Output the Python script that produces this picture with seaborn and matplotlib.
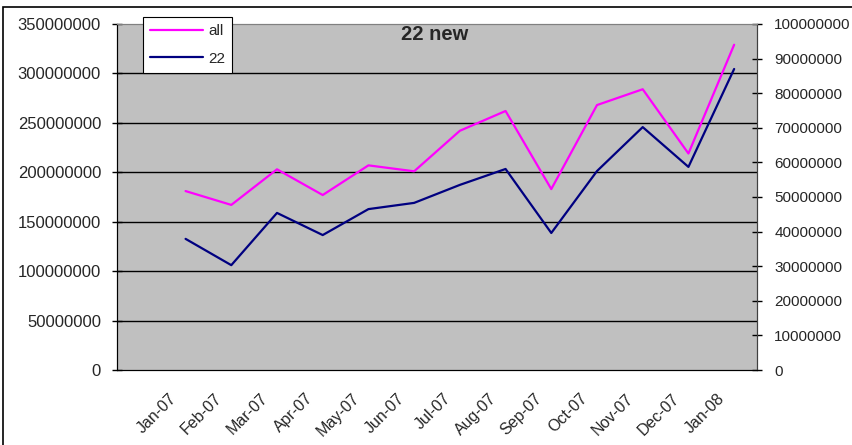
import matplotlib
matplotlib.use("Agg")
import matplotlib.pyplot as plt
import matplotlib.transforms as mtransforms
from matplotlib.patches import Rectangle
import numpy as np
import pandas as pd
import seaborn as sns

# data
months = ['Jan-07', 'Feb-07', 'Mar-07', 'Apr-07', 'May-07', 'Jun-07', 'Jul-07',
          'Aug-07', 'Sep-07', 'Oct-07', 'Nov-07', 'Dec-07', 'Jan-08']
all_vals = [181e6, 167e6, 203e6, 177e6, 207e6, 201e6, 242e6,
            262e6, 183e6, 268e6, 284e6, 219e6, 329e6]
new22_vals = [37.9e6, 30.3e6, 45.4e6, 39.0e6, 46.5e6, 48.3e6, 53.5e6,
              58.1e6, 39.6e6, 57.5e6, 70.2e6, 58.7e6, 87.0e6]
left_ticks = [0, 50e6, 100e6, 150e6, 200e6, 250e6, 300e6, 350e6]
right_ticks = [0, 10e6, 20e6, 30e6, 40e6, 50e6, 60e6, 70e6, 80e6, 90e6, 100e6]

# first category of the sheet is empty, months sit at positions 1..13
df = pd.DataFrame({'pos': np.arange(1, len(months) + 1), 'month': months,
                   'all': all_vals, '22': new22_vals})

sns.set_style("white")
plt.rcParams['font.family'] = ['Liberation Sans', 'DejaVu Sans']

fig = plt.figure(figsize=(8.53, 4.45), dpi=100)
ax = fig.add_axes([117/853, 1 - 370/445, 640/853, 346/445])
ax.set_facecolor('#C0C0C0')

sns.lineplot(data=df, x='pos', y='all', ax=ax, color='#FF00FF', linewidth=1.6, label='all', legend=False)
ax2 = ax.twinx()
sns.lineplot(data=df, x='pos', y='22', ax=ax2, color='#000080', linewidth=1.6, label='22', legend=False)

ax.set_xlim(-0.5, 13.5)
ax.set_ylim(0, 350e6)
ax2.set_ylim(0, 100e6)
ax.set_yticks(left_ticks)
ax.set_yticklabels([str(int(v)) for v in left_ticks])
ax2.set_yticks(right_ticks)
ax2.set_yticklabels([str(int(v)) for v in right_ticks])
for g in left_ticks[1:-1]:
    ax.axhline(g, color='black', linewidth=1, zorder=0.5)

# boundaries carry tick marks, centers carry labels
ax.set_xticks(np.arange(-0.5, 14, 1))
ax.set_xticklabels([])
ax.set_xticks(np.arange(1, 14), minor=True)
ax.set_xticklabels(months, minor=True, rotation=45, ha='right', rotation_mode='anchor', fontsize=11.5)
ax.tick_params(axis='x', which='major', direction='inout', length=7, width=1, color='black')
ax.tick_params(axis='x', which='minor', length=0, pad=15)
off = mtransforms.ScaledTranslation(-17/100, 0, fig.dpi_scale_trans)
for lab in ax.get_xticklabels(minor=True):
    lab.set_transform(lab.get_transform() + off)

ax.tick_params(axis='y', direction='inout', length=7, width=1, color='black', labelsize=12, pad=8, left=True)
ax2.tick_params(axis='y', direction='inout', length=7, width=1, color='black', labelsize=11, pad=9, right=True)
ax.set_xlabel('')
ax.set_ylabel('')
ax2.set_ylabel('')

for a in (ax, ax2):
    for s in a.spines.values():
        s.set_visible(True)
    a.spines['top'].set_color('#808080')
    a.spines['left'].set_color('black')
    a.spines['bottom'].set_color('black')
    a.spines['right'].set_color('#404040')

fig.text(435/853, 1 - 34/445, '22 new', ha='center', va='center', fontsize=14.5, fontweight='bold')

handles = ax.get_lines()[:1] + ax2.get_lines()[:1]
leg = fig.legend(handles, ['all', '22'], loc='upper left', bbox_to_anchor=(143/853, 1 - 17/445),
                 frameon=True, fancybox=False, fontsize=11, handlelength=3.5, labelspacing=0.9,
                 borderpad=0.45, handletextpad=0.3, borderaxespad=0)
leg.get_frame().set_edgecolor('black')
leg.get_frame().set_facecolor('white')
leg.get_frame().set_alpha(1)
leg.get_frame().set_linewidth(0.8)

# chart area border, runs past right and bottom edges
fig.patches.append(Rectangle((3/853, -0.1), 1.2, 1.1 - 7/445, transform=fig.transFigure,
                             fill=False, edgecolor='black', linewidth=1.2, clip_on=False))

fig.savefig('out.png', dpi=100)
